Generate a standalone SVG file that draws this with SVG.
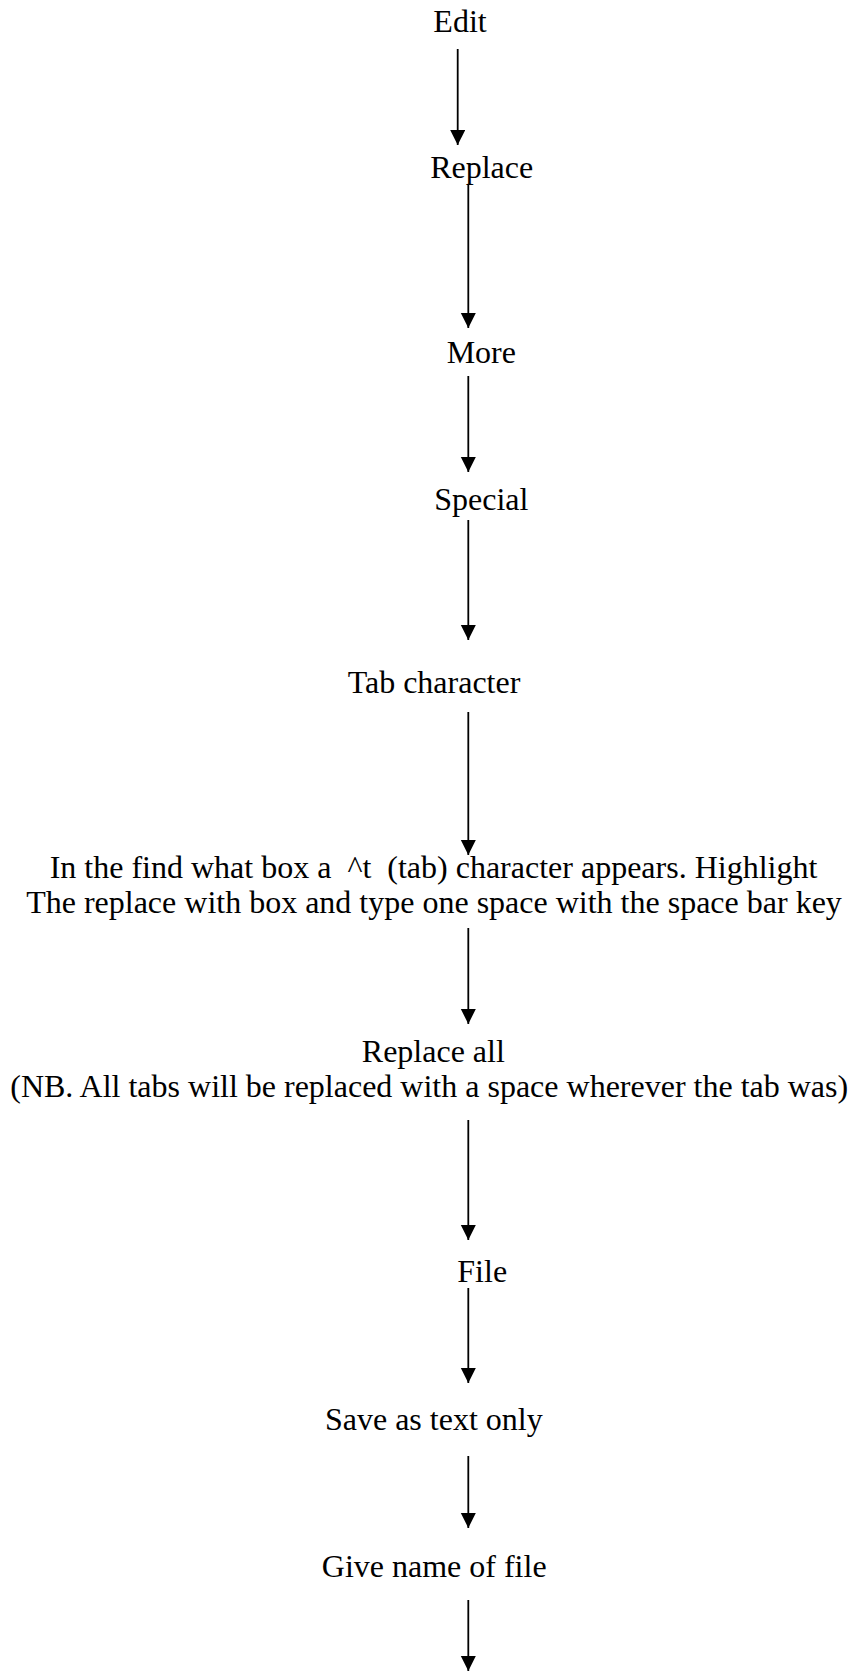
<svg xmlns="http://www.w3.org/2000/svg" width="860" height="1671" viewBox="0 0 860 1671">
<style>
  text { font-family: "Liberation Serif", "Times New Roman", serif; font-size: 32px; fill: #000; text-anchor: middle; }
  .conn line { stroke: #000; stroke-width: 1.8; fill: none; }
</style>
<defs>
  <marker id="arr" markerUnits="userSpaceOnUse" markerWidth="16" markerHeight="16" refX="15" refY="7.5" orient="auto">
    <path d="M0,0 L15,7.5 L0,15 Z" fill="#000"/>
  </marker>
</defs>
<rect width="860" height="1671" fill="#fff"/>
<g id="connectors" class="conn">
  <line x1="457.7" y1="49" x2="457.7" y2="145" marker-end="url(#arr)"/>
  <line x1="468.3" y1="185" x2="468.3" y2="328" marker-end="url(#arr)"/>
  <line x1="468.3" y1="376" x2="468.3" y2="472" marker-end="url(#arr)"/>
  <line x1="468.3" y1="520" x2="468.3" y2="640" marker-end="url(#arr)"/>
  <line x1="468.3" y1="712" x2="468.3" y2="855" marker-end="url(#arr)"/>
  <line x1="468.3" y1="928" x2="468.3" y2="1024" marker-end="url(#arr)"/>
  <line x1="468.3" y1="1120" x2="468.3" y2="1240" marker-end="url(#arr)"/>
  <line x1="468.3" y1="1288" x2="468.3" y2="1383" marker-end="url(#arr)"/>
  <line x1="468.3" y1="1456" x2="468.3" y2="1528" marker-end="url(#arr)"/>
  <line x1="468.3" y1="1600" x2="468.3" y2="1671" marker-end="url(#arr)"/>
</g>
<g id="n-edit"><text x="460" y="32">Edit</text></g>
<g id="n-replace"><text x="481.7" y="178">Replace</text></g>
<g id="n-more"><text x="481.3" y="363">More</text></g>
<g id="n-special"><text x="481.3" y="510">Special</text></g>
<g id="n-tab"><text x="434" y="693">Tab character</text></g>
<g id="n-find">
  <text x="433.5" y="878" xml:space="preserve">In the find what box a  ^t  (tab) character appears. Highlight</text>
  <text x="434" y="913">The replace with box and type one space with the space bar key</text>
</g>
<g id="n-replaceall">
  <text x="433.3" y="1062">Replace all</text>
  <text x="429.2" y="1097">(NB. All tabs will be replaced with a space wherever the tab was)</text>
</g>
<g id="n-file"><text x="482.2" y="1282">File</text></g>
<g id="n-save"><text x="433.8" y="1430">Save as text only</text></g>
<g id="n-name"><text x="434.2" y="1577">Give name of file</text></g>
</svg>
